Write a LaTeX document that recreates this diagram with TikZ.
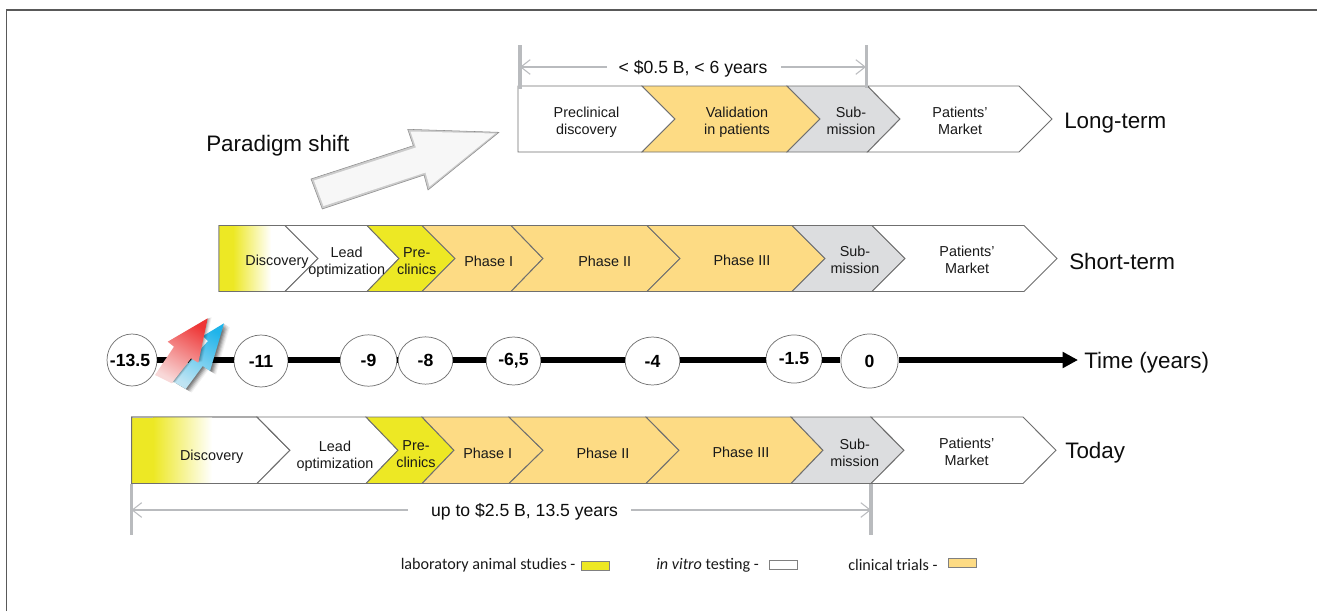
\documentclass[tikz,border=0pt]{standalone}
\usepackage{fontspec}
\setmainfont{Liberation Sans}
\newfontfamily\legendfont{Carlito}
\usetikzlibrary{arrows.meta,shapes.geometric,calc}
\definecolor{cyel}{HTML}{EDE824}
\definecolor{corg}{HTML}{FDDB84}
\definecolor{cgry}{HTML}{DCDDDF}
\definecolor{cbar}{HTML}{B9BBBE}
\definecolor{cout}{HTML}{6F6F6F}
\definecolor{credA}{HTML}{EE3636}
\definecolor{credB}{HTML}{F8D8D8}
\definecolor{cbluA}{HTML}{20B4EA}
\definecolor{cbluB}{HTML}{BFE4F3}
\tikzset{
  stagebox/.style={draw=cout,line width=.7pt,line join=miter},
  stagetext/.style={font=\fontsize{10.8}{12.75}\selectfont,align=center,inner sep=0pt,text=black!90},
  rowtext/.style={font=\fontsize{16.8}{20}\selectfont,anchor=west,inner sep=0pt,text=black!95},
  tick/.style={ellipse,draw=black!55,fill=white,line width=.55pt,inner sep=0pt,font=\fontsize{13.2}{15}\selectfont\bfseries},
  tl/.style={line width=4pt,black},
  bar/.style={cbar,line width=2.6pt},
  dimline/.style={cbar,line width=1pt,-{Straight Barb[length=7pt,width=11pt,line width=.8pt]}},
  dimtext/.style={font=\fontsize{13.2}{15}\selectfont,inner sep=0pt,text=black!95},
  legendtext/.style={font=\legendfont\fontsize{12.1}{14}\selectfont,anchor=west,inner sep=0pt,text=black!90},
  legendbox/.style={draw=black!50,line width=.5pt}
}
% #1 y top, #2 y bottom, #3 left-top x, #4 notch tip x, #5 right-top x, #6 right tip x, #7 fill
\newcommand{\stageshape}[7]{%
  \path[stagebox,fill=#7] (#3,#1) -- (#5,#1) -- (#6,{(#1+#2)/2}) -- (#5,#2) -- (#3,#2) -- (#4,{(#1+#2)/2}) -- cycle;}
\newcommand{\zw}[1]{\makebox[0pt][c]{#1}}
\begin{document}
\begin{tikzpicture}[x=0.75pt,y=-0.75pt]
\useasboundingbox (0,0) rectangle (1317,611);
% frame
\draw[black!65,line width=1.3pt] (6.5,611) -- (6.5,10) -- (1317,10);

% ---------- Long-term row
\stageshape{86}{152}{518}{518}{642}{675}{white}
\stageshape{86}{152}{642}{675}{787}{820}{corg}
\stageshape{86}{152}{787}{820}{867.5}{900}{cgry}
\stageshape{86}{152}{867.5}{900}{1019}{1052}{white}
\node[stagetext] (l1) at (586.5,122.5) {Preclinical\\discovery};
\node[stagetext] (l2) at (737,122.5) {Validation\\in patients};
\node[stagetext] (l3) at (851,120.5) {Sub-\\mission};
\node[stagetext] (l4) at (960,120.5) {Patients’\\Market};
\node[rowtext] (longlabel) at (1064,123) {Long-term};

% ---------- dimension, top
\coordinate (ta) at (520,45); \coordinate (tb) at (520,89);
\coordinate (tc) at (866.5,45); \coordinate (td) at (866.5,88);
\draw[bar] (ta) -- (tb);
\draw[bar] (tc) -- (td);
\node[dimtext] (topdim) at (693,69) {< \$0.5 B, < 6 years};
\coordinate (tl) at (607,67); \coordinate (tr) at (781,67);
\coordinate (tle) at (520,67); \coordinate (tre) at (866,67);
\draw[dimline] (tl) -- (tle);
\draw[dimline] (tr) -- (tre);

% ---------- Paradigm arrow
\node[rowtext] (shift) at (206,145.5) {Paradigm shift};
\path[fill=black!20,draw=black!45,line width=.4pt,line join=miter]
  (311,179) -- (413.3,145.7) -- (407.7,129.3) -- (499,132.3) -- (428,190) -- (424,175) -- (322.3,209) -- cycle;
\fill[black!3] (314,180.5) -- (416,147.5) -- (410.5,131.5) -- (495,133.5) -- (429.5,186.5) -- (425.5,172.5) -- (323.5,206) -- cycle;

% ---------- Short-term row
\stageshape{225.5}{291.5}{219}{219}{285}{318}{white}
\fill[cyel] (219.4,226) rectangle (233,291);
\shade[left color=cyel,right color=white] (233,226) rectangle (271,291);
\stageshape{225.5}{291.5}{219}{219}{285}{318}{none}
\stageshape{225.5}{291.5}{285}{318}{367}{399}{white}
\stageshape{225.5}{291.5}{367}{399}{422}{455}{cyel}
\stageshape{225.5}{291.5}{422}{455}{511}{543}{corg}
\stageshape{225.5}{291.5}{511}{543}{647}{680}{corg}
\stageshape{225.5}{291.5}{647}{680}{792}{825}{corg}
\stageshape{225.5}{291.5}{792}{825}{872}{905}{cgry}
\stageshape{225.5}{291.5}{872}{905}{1024}{1057}{white}
\node[stagetext] (s1) at (277,262) {Discovery};
\node[stagetext] (s2) at (346.7,262.5) {Lead\\optimization};
\node[stagetext] (s3) at (416.7,261.5) {Pre-\\clinics};
\node[stagetext] (s4) at (488.7,261) {Phase I};
\node[stagetext] (s5) at (604.7,261) {Phase II};
\node[stagetext] (s6) at (742,260) {Phase III};
\node[stagetext] (s7) at (855,260) {Sub-\\mission};
\node[stagetext] (s8) at (967,259.5) {Patients’\\Market};
\node[rowtext] (shortlabel) at (1069,261) {Short-term};

% ---------- timeline
\node[tick,minimum width=37.5pt,minimum height=39pt] (n1) at (132,360) {\zw{\hspace*{-3pt}-13.5}};
\node[tick,minimum width=40.5pt,minimum height=39pt] (n2) at (261,361) {\zw{-11}};
\node[tick,minimum width=42.5pt,minimum height=38.5pt] (n3) at (368.5,360.5) {\zw{-9}};
\node[tick,minimum width=41pt,minimum height=35.5pt] (n4) at (425.5,360.5) {\zw{-8}};
\node[tick,minimum width=41pt,minimum height=36pt] (n5) at (513.5,361) {\zw{-6,5}};
\node[tick,minimum width=41pt,minimum height=36pt] (n6) at (652.5,361) {\zw{-4}};
\node[tick,minimum width=42pt,minimum height=36pt] (n7) at (794,359) {\zw{\raisebox{-2pt}{-1.5}}};
\node[tick,minimum width=43pt,minimum height=40.5pt] (n8) at (869.5,361) {\zw{0}};
\coordinate (tend) at (1078,360);
\draw[tl] (n1.east |- tend) -- (n2.west |- tend);
\draw[tl] (n2.east |- tend) -- (n3.west |- tend);
\draw[tl] (n3.east |- tend) -- (n4.west |- tend);
\draw[tl] (n4.east |- tend) -- (n5.west |- tend);
\draw[tl] (n5.east |- tend) -- (n6.west |- tend);
\draw[tl] (n6.east |- tend) -- (n7.west |- tend);
\draw[tl] (n7.east |- tend) -- (n8.west |- tend);
\draw[tl,-{Triangle[length=11.5pt,width=11.5pt]}] (n8.east |- tend) -- (tend);
\node[rowtext] (timelabel) at (1084,363) {Time (years)};

% ---------- red / blue arrows
\foreach \d/\o in {1/.16,2/.16,3/.14,4/.11,5/.08,6/.05}{
  \fill[black,opacity=\o,shift={(\d*1.0,\d*0.6)}]
    (224,323.3) -- (203,336) -- (208,341) -- (172.3,381) -- (185.7,389) -- (202.7,366) -- (210,371) -- cycle;
}
\shade[top color=cbluA,bottom color=cbluB,shading angle=-30]
    (224,323.3) -- (203,336) -- (208,341) -- (172.3,381) -- (185.7,389) -- (202.7,366) -- (210,371) -- cycle;
\foreach \d/\o in {1/.12,2/.10,3/.08,4/.05}{
  \fill[black,opacity=\o,shift={(\d*1.0,\d*-0.3)}]
    (207.7,318.3) -- (167.7,341.7) -- (174,346.7) -- (155,375) -- (171.7,383.3) -- (191,358.3) -- (198.3,362.7) -- cycle;
}
\shade[top color=credA,bottom color=credB,shading angle=-30]
    (207.7,318.3) -- (167.7,341.7) -- (174,346.7) -- (155,375) -- (171.7,383.3) -- (191,358.3) -- (198.3,362.7) -- cycle;

% ---------- Today row
\stageshape{417}{483.5}{131.7}{131.7}{257}{290}{white}
\fill[cyel] (132,417.5) rectangle (153,483);
\shade[left color=cyel,right color=white] (153,417.5) rectangle (212,483);
\stageshape{417}{483.5}{131.7}{131.7}{257}{290}{none}
\stageshape{417}{483.5}{257}{290}{366}{398}{white}
\stageshape{417}{483.5}{366}{398}{422}{454}{cyel}
\stageshape{417}{483.5}{422}{454}{509}{543}{corg}
\stageshape{417}{483.5}{509}{543}{646}{679}{corg}
\stageshape{417}{483.5}{646}{679}{791}{823}{corg}
\stageshape{417}{483.5}{791}{823}{871}{904}{cgry}
\stageshape{417}{483.5}{871}{904}{1023}{1056}{white}
\node[stagetext] (t1) at (211.7,457) {Discovery};
\node[stagetext] (t2) at (335,456.5) {Lead\\optimization};
\node[stagetext] (t3) at (416,454.5) {Pre-\\clinics};
\node[stagetext] (t4) at (487.7,453) {Phase I};
\node[stagetext] (t5) at (603,453) {Phase II};
\node[stagetext] (t6) at (741,452) {Phase III};
\node[stagetext] (t7) at (854.7,452.5) {Sub-\\mission};
\node[stagetext] (t8) at (966.7,451.5) {Patients’\\Market};
\node[rowtext] (todaylabel) at (1065,453) {Today};

% ---------- dimension, bottom
\coordinate (ba) at (131.5,484); \coordinate (bb) at (131.5,535);
\coordinate (bc) at (871,484); \coordinate (bd) at (871,535);
\draw[bar] (ba) -- (bb);
\draw[bar] (bc) -- (bd);
\node[dimtext] (botdim) at (524.5,512) {up to \$2.5 B, 13.5 years};
\coordinate (bl) at (408,510); \coordinate (br) at (631,510);
\coordinate (ble) at (131.5,510); \coordinate (bre) at (871,510);
\draw[dimline] (bl) -- (ble);
\draw[dimline] (br) -- (bre);

% ---------- legend
\node[legendtext] (lg1) at (400.5,565) {laboratory animal studies -};
\node[legendbox,fill=cyel,minimum width=21pt,minimum height=6.8pt,inner sep=0pt] (lb1) at (595,565.5) {};
\node[legendtext] (lg2) at (656,565) {\textit{in vitro} testing -};
\node[legendbox,fill=white,minimum width=21pt,minimum height=6.8pt,inner sep=0pt] (lb2) at (783,564.5) {};
\node[legendtext] (lg3) at (848,565) {clinical trials -};
\node[legendbox,fill=corg,minimum width=21pt,minimum height=6.8pt,inner sep=0pt] (lb3) at (962,563) {};
\end{tikzpicture}
\end{document}
